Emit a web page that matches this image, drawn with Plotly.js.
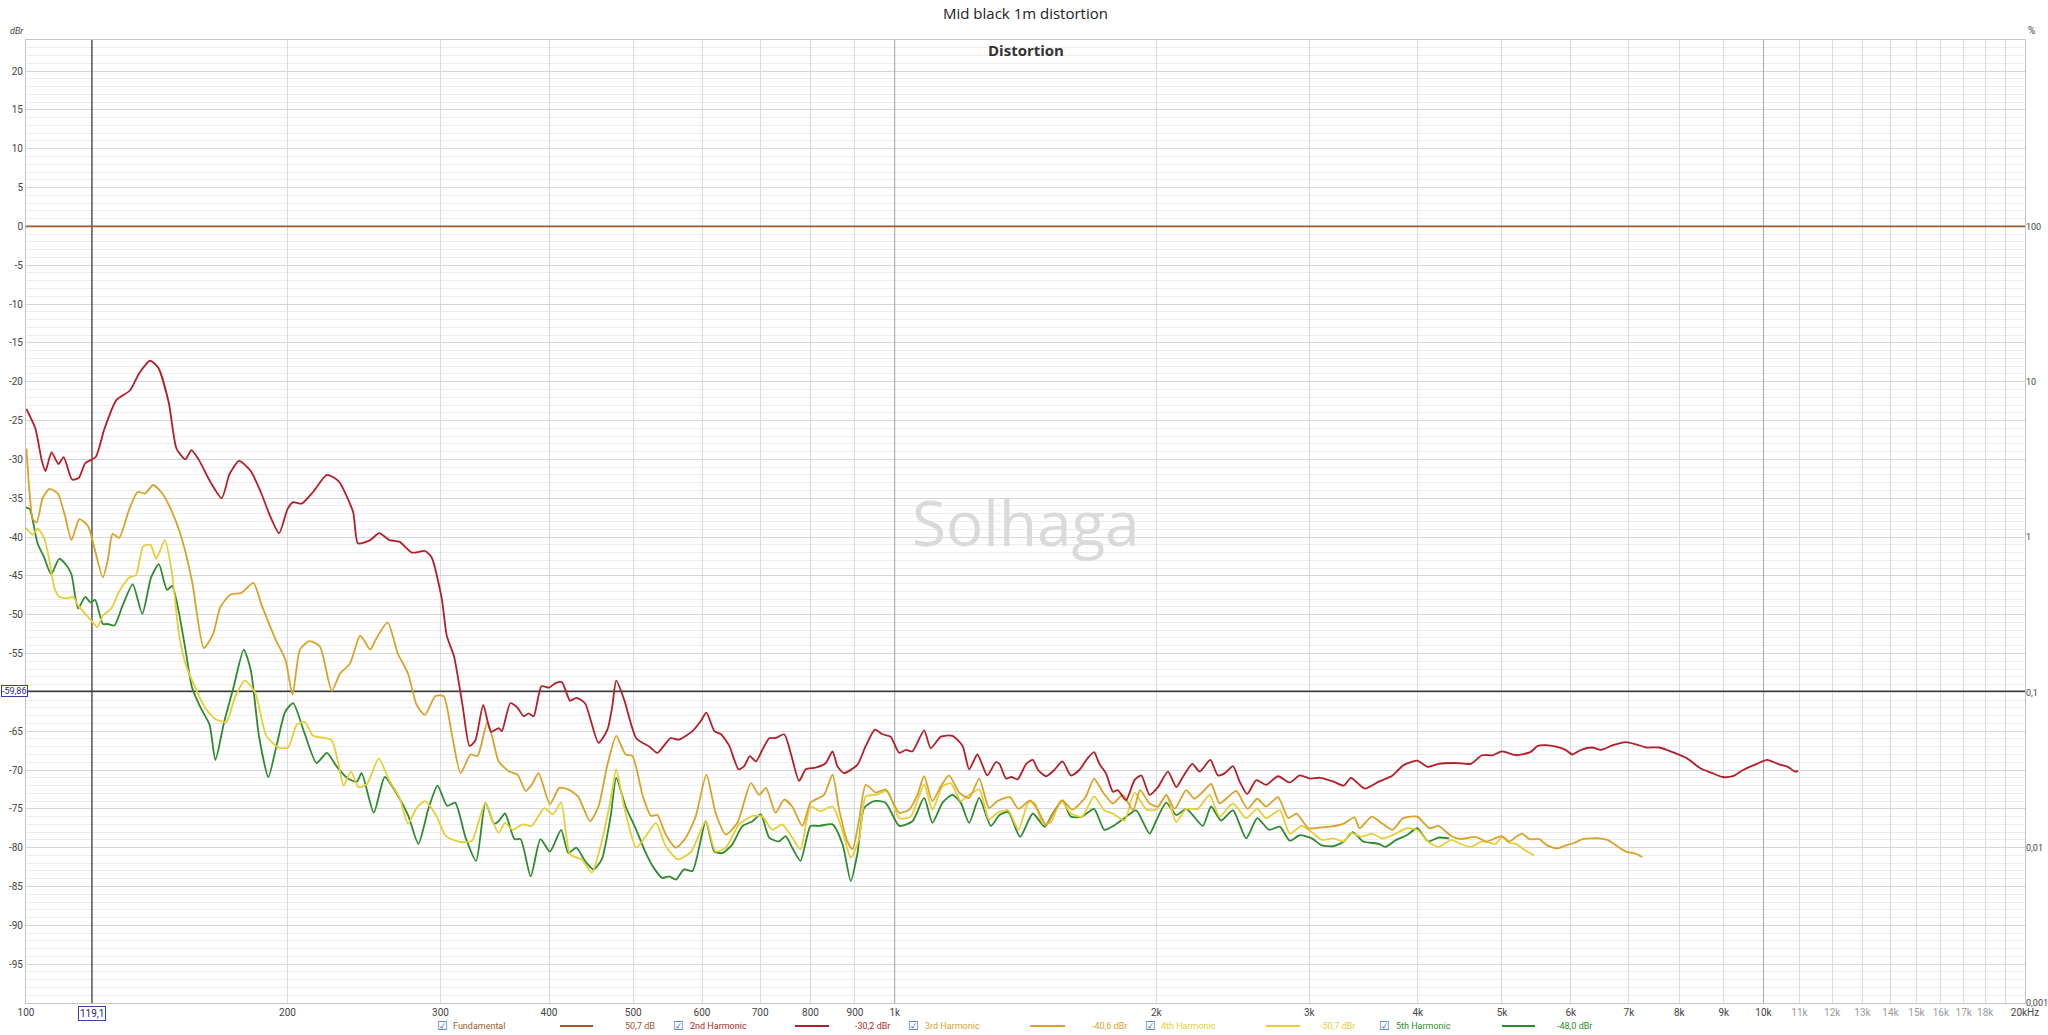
<!DOCTYPE html>
<html>
<head>
<meta charset="utf-8">
<script src="https://cdn.plot.ly/plotly-3.0.1.min.js"></script>
<style>html,body{margin:0;padding:0;background:#fff;}#chart{width:2048px;height:1035px;}</style>
</head>
<body>
<div id="chart"></div>
<script>
// ---------- DATA ----------
const fundFreq = [100, 20000];
const fundDb = [0, 0];

const h2Freq = [100.1,102.5,104.3,105.3,107,109,110.5,113,115,117,120.3,123,127,131.8,135,139,142,146,149,152.6,155,158,163,168,171.5,175.9,181.4,186.3,191,195.6,200,203,207.6,214,222,229,238,241,249,255,262,269,278,288,293,301,305,311,318,324,329,336,343,350,353,361,368,374,379,384,392,400,407,414,423,430,440,456,467,473,478,488,504,522,533,552,564,585,598,607,620,631,645,661,671,681,692,704,717,729,746,759,776,790,811,833,848,859,874,906,926,949,968,989,1012,1030,1048,1081,1100,1130,1165,1197,1218,1245,1278,1307,1320,1343,1362,1385,1417,1442,1462,1494,1526,1560,1595,1631,1667,1696,1720,1750,1783,1806,1846,1888,1922,1965,2009,2063,2109,2146,2200,2244,2308,2355,2399,2451,2495,2545,2607,2676,2762,2849,2926,3007,3088,3200,3289,3350,3476,3607,3742,3848,3994,4110,4227,4432,4605,4742,4878,5000,5192,5390,5498,5616,5771,5917,6023,6168,6352,6501,6711,6946,7136,7327,7589,7860,8165,8469,8731,8971,9218,9475,9826,10100,10380,10670,10870,10960];
const h2Db = [-23.5,-26.0,-30.2,-31.5,-29.1,-30.6,-29.7,-32.6,-32.4,-30.5,-29.7,-26.2,-22.4,-21.1,-18.9,-17.3,-18.2,-22.7,-28.6,-30.0,-28.8,-30.0,-32.9,-35.0,-31.9,-30.2,-31.5,-34.2,-37.3,-39.5,-36.4,-35.5,-35.7,-34.2,-32.0,-32.8,-36.8,-40.8,-40.4,-39.5,-40.4,-40.6,-42.0,-41.8,-42.6,-47.9,-52.7,-55.4,-61.6,-66.9,-66.2,-61.6,-65.1,-64.6,-65.0,-61.4,-62.0,-63.1,-62.7,-63.1,-59.2,-59.4,-58.8,-58.7,-61.1,-60.7,-61.4,-66.5,-64.8,-61.8,-58.5,-60.9,-65.9,-67.0,-67.8,-65.9,-66.1,-65.0,-63.7,-62.6,-65.0,-65.4,-66.9,-69.9,-69.5,-68.2,-68.9,-67.4,-65.9,-65.9,-65.4,-67.8,-71.4,-69.9,-69.7,-69.1,-67.6,-69.5,-70.4,-69.3,-66.9,-64.8,-65.4,-65.7,-67.8,-67.4,-67.6,-64.9,-67.2,-65.7,-65.6,-66.9,-69.9,-68.0,-70.7,-69.0,-69.2,-71.1,-70.9,-71.2,-69.2,-68.7,-70.0,-70.8,-70.0,-68.9,-70.7,-70.0,-68.5,-67.7,-69.2,-70.4,-72.8,-72.6,-73.9,-71.3,-70.7,-73.2,-72.2,-70.2,-72.2,-70.9,-69.2,-70.2,-68.7,-70.7,-70.4,-69.5,-71.5,-73.1,-71.3,-71.9,-70.8,-71.6,-70.7,-71.1,-71.0,-71.5,-72.0,-71.0,-72.4,-71.5,-70.7,-69.4,-68.8,-69.6,-69.2,-69.1,-69.2,-68.1,-68.1,-67.6,-68.1,-67.7,-66.9,-66.8,-67.0,-67.4,-68.0,-67.4,-67.1,-67.4,-66.8,-66.4,-66.7,-67.1,-67.1,-67.7,-68.5,-69.8,-70.4,-70.9,-70.8,-70.0,-69.2,-68.7,-69.2,-69.6,-70.2,-70.1];

const h3Freq = [100.1,101,101.8,102.9,104.5,106.4,108.8,110.9,112.8,115.2,117.9,119.5,122.6,124.2,125.8,128,131.5,134.4,137.1,140.1,143.5,147.3,151.3,155.3,160.2,164.2,167.4,172,176.9,182.7,186.8,193.8,198.9,202.7,206.7,212,217.9,224.9,229.8,236,242.5,249.1,252.7,260.8,267.9,275.3,281.6,287.9,295.8,302.5,309.4,316.4,324.9,330.9,339.8,347.6,350,360,368,376,382,389,401,411,421,432,446,456,467,478,490,499,513,524,533,545,560,575,590,607,622,639,659,683,698,711,729,746,762,783,800,829,848,863,882,894,910,926,951,976,1012,1039,1062,1081,1105,1130,1155,1186,1218,1251,1284,1313,1357,1388,1432,1462,1494,1526,1560,1601,1658,1696,1735,1783,1830,1881,1916,1965,2009,2054,2100,2165,2213,2263,2313,2365,2418,2472,2548,2614,2676,2762,2838,2901,2993,3088,3170,3289,3382,3428,3541,3641,3742,3848,3994,4126,4227,4370,4479,4659,4799,4994,5098,5192,5276,5380,5520,5635,5793,5924,6055,6188,6327,6470,6615,6764,6946,7136,7250];
const h3Db = [-28.6,-34.6,-37.7,-38.1,-35.0,-33.8,-34.4,-37.3,-40.4,-37.7,-38.6,-40.8,-45.2,-43.0,-39.6,-40.1,-36.4,-34.2,-34.4,-33.3,-34.4,-36.8,-40.4,-45.7,-54.3,-52.5,-49.0,-47.4,-47.2,-45.9,-48.8,-53.2,-55.8,-60.3,-54.5,-53.4,-54.1,-59.8,-57.6,-56.3,-52.7,-54.5,-53.2,-51.0,-55.0,-57.6,-61.6,-62.9,-60.5,-60.5,-65.6,-70.4,-68.0,-68.2,-63.8,-67.8,-68.9,-70.2,-70.6,-72.7,-71.9,-70.4,-74.4,-72.3,-72.5,-73.4,-76.6,-74.7,-69.3,-65.6,-68.0,-68.2,-73.4,-75.9,-75.8,-78.3,-80.0,-78.7,-76.0,-70.6,-75.5,-78.3,-76.8,-71.7,-73.2,-72.3,-75.5,-73.8,-74.7,-77.2,-74.2,-73.2,-70.6,-75.1,-79.2,-80.2,-76.4,-71.9,-72.9,-72.5,-75.5,-75.1,-73.2,-70.8,-74.0,-72.1,-70.7,-72.9,-73.6,-71.1,-74.9,-74.0,-73.5,-75.0,-73.9,-75.2,-77.1,-75.4,-73.9,-75.1,-73.5,-71.1,-72.8,-74.3,-73.2,-75.2,-72.6,-74.3,-74.7,-73.2,-75.0,-72.6,-73.7,-72.8,-71.8,-74.3,-73.5,-72.7,-75.0,-73.7,-74.7,-73.5,-76.2,-75.6,-77.5,-77.4,-77.3,-76.9,-76.1,-77.5,-76.0,-76.9,-77.7,-76.2,-76.0,-77.5,-77.2,-78.5,-78.9,-78.6,-79.2,-78.5,-79.2,-78.6,-78.2,-78.9,-78.9,-79.7,-80.1,-79.7,-79.4,-78.9,-78.8,-78.8,-79.0,-79.7,-80.5,-80.8,-81.2];

const h4Freq = [100,101.8,103.1,104.9,106.4,107.8,109.2,111.4,113.3,114.8,117,119,120.8,122.6,125.4,128,131.5,133.8,136.4,139.1,141.2,144.5,147.3,149.9,152.6,156.6,160.8,165,170.1,173.9,178.6,183.5,189.1,195.2,200.3,204.9,209.4,214,218.9,224.9,228.8,232,236.7,241.3,246.9,254.7,261.8,269,275.3,281.6,287.9,297,303.7,311.9,318.9,326.2,332,338,344.5,350,356,363,373,382,395,404,413,423,436,448,460,471,478,488,504,517,531,545,563,583,606,622,639,662,686,704,723,742,762,779,800,821,848,871,890,910,926,951,981,1012,1043,1081,1105,1135,1160,1191,1218,1251,1284,1313,1351,1388,1426,1450,1481,1513,1553,1595,1643,1696,1743,1783,1838,1888,1949,2000,2054,2109,2165,2233,2304,2365,2451,2538,2614,2676,2775,2849,2939,3020,3102,3200,3289,3350,3444,3541,3641,3742,3884,3994,4110,4227,4370,4479,4605,4742,4921,5000,5098,5192,5311,5445];
const h4Db = [-38.8,-39.7,-38.9,-40.1,-43.0,-46.5,-47.7,-47.9,-47.7,-48.8,-49.9,-50.8,-51.6,-50.1,-49.2,-47.0,-45.2,-44.9,-41.2,-41.0,-42.8,-40.4,-44.8,-52.3,-56.3,-59.4,-62.0,-63.4,-63.8,-60.7,-58.5,-60.0,-65.6,-67.1,-67.1,-64.2,-63.8,-65.6,-65.8,-66.2,-69.1,-72.0,-70.2,-72.2,-71.8,-68.5,-71.3,-73.5,-76.9,-74.9,-74.0,-76.0,-78.4,-79.1,-79.3,-79.1,-76.6,-74.2,-76.6,-78.1,-76.8,-77.7,-77.0,-77.2,-74.9,-75.7,-74.2,-80.9,-81.5,-83.2,-79.2,-73.8,-69.9,-74.7,-80.0,-78.5,-76.8,-79.8,-81.5,-80.5,-76.6,-80.5,-80.0,-77.0,-75.9,-76.0,-77.7,-77.0,-78.7,-80.2,-74.7,-75.3,-74.7,-77.9,-81.3,-78.9,-73.4,-73.2,-72.7,-76.2,-76.0,-71.9,-75.1,-72.1,-71.7,-74.0,-73.2,-72.5,-76.4,-75.5,-75.2,-77.7,-74.1,-74.3,-76.9,-76.7,-73.9,-75.6,-76.0,-73.4,-75.2,-75.6,-76.5,-72.9,-75.1,-75.1,-73.2,-76.7,-75.0,-75.0,-73.2,-76.0,-74.3,-76.2,-75.0,-76.2,-75.2,-78.2,-77.2,-78.0,-79.0,-78.8,-79.2,-78.1,-78.6,-78.2,-78.8,-78.4,-77.5,-77.7,-79.2,-79.9,-79.0,-79.5,-79.9,-79.2,-79.5,-78.6,-79.4,-79.5,-80.3,-81.0];

const h5Freq = [100,101,103.1,104.9,106.9,109.2,111.4,112.8,114.8,117,118.6,120.1,122.6,124.2,126.4,129.2,132.7,136.1,139.3,142.2,145.3,147.3,149.9,152.6,155.3,158.9,162.7,165.2,169.1,173.3,178.1,181.5,185.4,190.1,194.4,198.8,203,208.7,216,222,228,234.7,240.3,243.4,251.4,258.8,267.9,275.3,282.9,290.7,297.7,305.3,311.9,320.4,329.7,338,345.7,350,356,365,371,381,391,401,413,421,430,440,450,460,471,478,490,504,517,528,540,550,560,572,585,606,620,633,650,668,686,701,717,736,749,762,779,800,818,848,871,890,906,922,947,976,1012,1048,1081,1105,1135,1165,1191,1218,1251,1290,1320,1351,1394,1442,1488,1520,1560,1595,1643,1696,1743,1791,1838,1896,1965,2000,2054,2109,2165,2203,2263,2313,2374,2451,2538,2614,2696,2775,2849,2926,3020,3102,3200,3289,3366,3460,3607,3673,3777,3884,3994,4110,4227,4348];
const h5Db = [-36.2,-36.4,-40.8,-42.6,-44.8,-42.8,-43.7,-44.8,-49.2,-47.7,-48.4,-48.1,-51.2,-51.2,-51.4,-48.8,-46.1,-49.9,-45.2,-43.5,-46.8,-46.3,-49.6,-54.5,-59.4,-62.0,-64.2,-68.7,-63.8,-59.4,-54.5,-57.2,-65.6,-70.9,-66.7,-62.5,-61.4,-64.9,-69.1,-67.8,-69.6,-71.1,-71.5,-70.4,-75.5,-70.9,-73.3,-75.8,-79.5,-74.9,-72.0,-74.6,-74.2,-78.6,-81.7,-74.2,-76.9,-76.6,-75.6,-78.9,-78.9,-83.7,-78.9,-80.5,-77.7,-80.7,-80.0,-81.7,-82.8,-81.5,-75.9,-71.0,-74.7,-77.7,-80.7,-82.6,-83.9,-83.7,-84.1,-82.8,-83.0,-76.6,-80.5,-80.7,-79.6,-77.2,-76.6,-75.7,-78.7,-79.2,-78.5,-80.0,-81.7,-77.2,-77.2,-77.0,-79.6,-84.3,-80.7,-74.9,-74.0,-74.2,-77.2,-76.6,-73.6,-76.8,-74.2,-73.2,-74.2,-76.8,-73.6,-77.2,-75.8,-75.4,-78.6,-75.6,-77.3,-75.6,-73.9,-76.0,-76.0,-75.0,-77.7,-77.1,-76.2,-75.2,-78.2,-76.5,-74.2,-75.8,-75.0,-75.8,-77.2,-74.7,-76.5,-75.2,-78.8,-76.2,-77.7,-77.3,-79.1,-78.4,-78.8,-79.7,-79.8,-79.2,-78.0,-79.2,-79.5,-79.9,-79.0,-78.4,-77.5,-79.2,-78.7,-78.8];

// cursor readout
const cursorFreq = 119.1;
const cursorDb = -59.86;

// axis ticks
const xTickVals = [100,200,300,400,500,600,700,800,900,1000,2000,3000,4000,5000,6000,7000,8000,9000,10000,11000,12000,13000,14000,15000,16000,17000,18000,19000,20000];
const xTickText = ['100','200','300','400','500','600','700','800','900','1k','2k','3k','4k','5k','6k','7k','8k','9k','10k','11k','12k','13k','14k','15k','16k','17k','18k','','20kHz'];
const xLightFrom = 11000;
const xMajorGrid = [1000, 10000];
const yTickVals = [-95,-90,-85,-80,-75,-70,-65,-60,-55,-50,-45,-40,-35,-30,-25,-20,-15,-10,-5,0,5,10,15,20];
const pctTickVals = [0.001,0.01,0.1,1,10,100];
const pctTickText = ['0,001','0,01','0,1','1','10','100'];

// legend
const seriesNames = ['Fundamental','2nd Harmonic','3rd Harmonic','4th Harmonic','5th Harmonic'];
const seriesLevels = ['50,7 dB','-30,2 dBr','-40,6 dBr','-50,7 dBr','-48,0 dBr'];
const seriesColors = ['#9a5a2c','#b21f29','#d7a32a','#e4cf35','#2e8a2e'];

// ---------- PLOT ----------
const X0 = 2, X1 = Math.log10(20000), Y0 = -100, Y1 = 24;
const fontFam = '"Liberation Sans Narrow", Roboto, "Open Sans", sans-serif';

const traces = [];
xMajorGrid.forEach(v => traces.push({x:[v,v], y:[Y0,Y1], mode:'lines', line:{color:'#a8a8a8', width:1}, hoverinfo:'skip', showlegend:false}));
traces.push({x:[cursorFreq,cursorFreq], y:[Y0,Y1], mode:'lines', line:{color:'#3a3a3a', width:1.3}, hoverinfo:'skip', showlegend:false});
traces.push({x:[100,20000], y:[cursorDb,cursorDb], mode:'lines', line:{color:'#3a3a3a', width:1.3}, hoverinfo:'skip', showlegend:false});
const series = [[fundFreq,fundDb],[h2Freq,h2Db],[h3Freq,h3Db],[h4Freq,h4Db],[h5Freq,h5Db]];
const order = [0,4,3,2,1];
order.forEach(i => {
  traces.push({x:series[i][0], y:series[i][1], name:seriesNames[i], mode:'lines',
    line:{color:seriesColors[i], width:1.8, shape: i===0 ? 'linear' : 'spline', smoothing:0.6},
    showlegend:false});
});
traces.push({x:[1000], y:[1], yaxis:'y2', mode:'markers', marker:{opacity:0}, hoverinfo:'skip', showlegend:false});

const xText = xTickVals.map((v,i) => v >= xLightFrom && xTickText[i] !== '20kHz' ? '<span style="color:#9a9a9a">'+xTickText[i]+'</span>' : xTickText[i]);
const yText = yTickVals.map(v => v === -60 ? '' : String(v));

const ann = [];
ann.push({xref:'paper', yref:'paper', x:0.5, y:1-10/963, yanchor:'middle', xanchor:'center', text:'<b>Distortion</b>', showarrow:false, font:{family:'"Open Sans", sans-serif', size:15, color:'#333'}});
ann.push({xref:'paper', yref:'paper', x:0.5, y:0.4995, xanchor:'center', yanchor:'middle', text:'Solhaga', showarrow:false, font:{family:'"Open Sans", sans-serif', size:62, color:'#dadada'}});
ann.push({xref:'paper', yref:'paper', x:0, y:1, xanchor:'right', yanchor:'bottom', yshift:2, text:'<i>dBr</i>', showarrow:false, font:{family:fontFam, size:9, color:'#444'}});
ann.push({xref:'paper', yref:'paper', x:1, y:1, xanchor:'left', yanchor:'bottom', xshift:1, yshift:2, text:'%', showarrow:false, font:{family:fontFam, size:10, color:'#444'}});
ann.push({xref:'x', yref:'paper', x:Math.log10(cursorFreq), y:0, yanchor:'top', xanchor:'center', yshift:-3, text:'119,1', showarrow:false, bgcolor:'#fff', bordercolor:'#3b3ba5', borderwidth:1, borderpad:1, font:{family:fontFam, size:10, color:'#26267a'}});
ann.push({xref:'paper', yref:'y', x:0, y:cursorDb, xanchor:'left', yanchor:'middle', xshift:-25, text:'-59,86', showarrow:false, bgcolor:'#fff', bordercolor:'#3b3ba5', borderwidth:1, borderpad:0, font:{family:fontFam, size:9, color:'#26267a'}});

// legend row
const W = 1999, PX0 = 26;
const px = v => (v - PX0) / W;
const legY = -(1026 - 1003) / 963;
const chkX = [442, 678, 913, 1150, 1384];
const nameX = [451, 688, 923, 1159, 1394];
const lineX = [[560,593],[795,829],[1030,1065],[1266,1300],[1502,1535]];
const valX = [623, 853, 1090, 1318, 1555];
const shapes = [];
for (let i = 0; i < 5; i++) {
  ann.push({xref:'paper', yref:'paper', x:px(chkX[i]), y:legY, xanchor:'center', yanchor:'middle', text:'☑', showarrow:false, font:{family:'"DejaVu Sans", sans-serif', size:12, color:'#3a72c4'}});
  ann.push({xref:'paper', yref:'paper', x:px(nameX[i]), y:legY, xanchor:'left', yanchor:'middle', text:seriesNames[i], showarrow:false, font:{family:fontFam, size:9, color:seriesColors[i]}});
  ann.push({xref:'paper', yref:'paper', x:px(valX[i]), y:legY, xanchor:'left', yanchor:'middle', text:seriesLevels[i], showarrow:false, font:{family:fontFam, size:9, color:seriesColors[i]}});
  shapes.push({type:'line', xref:'paper', yref:'paper', x0:px(lineX[i][0]), x1:px(lineX[i][1]), y0:legY, y1:legY, line:{color:seriesColors[i], width:2}});
}

const layout = {
  width:2048, height:1035,
  margin:{l:26, r:23, t:40, b:32, pad:0},
  paper_bgcolor:'#ffffff', plot_bgcolor:'#ffffff',
  showlegend:false,
  title:{text:'Mid black 1m distortion', x:0.5, xref:'paper', y:1-14/1035, yanchor:'middle', font:{family:'"Open Sans", sans-serif', size:15, color:'#222'}},
  xaxis:{type:'log', range:[X0,X1], tickmode:'array', tickvals:xTickVals, ticktext:xText, showgrid:true, gridcolor:'#dadada', gridwidth:1, zeroline:false, showline:true, linecolor:'#c4c4c4', mirror:true, ticks:'', tickfont:{family:fontFam, size:10, color:'#444'}, tickangle:0},
  yaxis:{range:[Y0,Y1], tickmode:'array', tickvals:yTickVals, ticktext:yText, showgrid:true, gridcolor:'#d6d6d6', gridwidth:1, zeroline:false, showline:true, linecolor:'#c4c4c4', mirror:true, ticks:'', tickfont:{family:fontFam, size:10, color:'#444'},
    minor:{tickmode:'linear', tick0:0, dtick:1, showgrid:true, gridcolor:'#ececec', gridwidth:1, ticks:''}},
  yaxis2:{type:'log', overlaying:'y', side:'right', range:[-3, 2+24/20], tickmode:'array', tickvals:pctTickVals, ticktext:pctTickText, showgrid:false, zeroline:false, showline:false, ticks:'', tickfont:{family:fontFam, size:9, color:'#444'}},
  annotations:ann,
  shapes:shapes
};

Plotly.newPlot('chart', traces, layout, {staticPlot:true, displayModeBar:false});
</script>
</body>
</html>
